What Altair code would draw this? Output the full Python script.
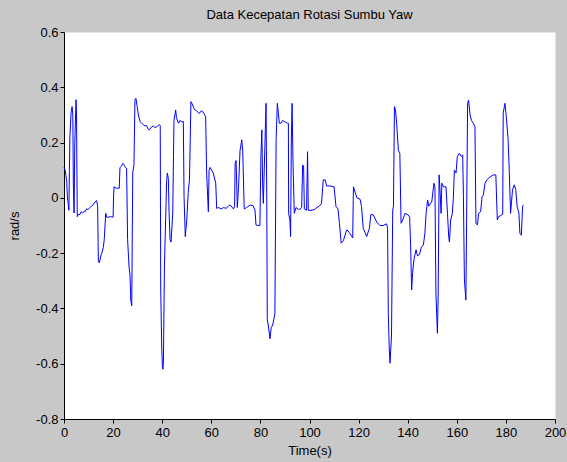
import altair as alt
import pandas as pd

# ---- data ----
time_s = [
    0.0, 0.5, 0.8, 1.1, 1.4, 1.7, 2.0, 2.2, 2.4, 2.9, 3.3, 3.6, 3.8, 4.1, 4.4, 4.9, 5.1, 5.4,
    5.8, 6.5, 7.0, 7.6, 8.2, 8.6, 9.2, 9.8, 10.6, 11.2, 11.9, 12.6, 13.3, 13.7, 14.0, 14.4,
    15.0, 15.4, 16.0, 16.4, 17.0, 17.4, 18.0, 19.0, 20.0, 20.2, 20.4, 21.3, 22.5, 22.8, 23.4,
    24.0, 24.4, 25.0, 25.5, 25.9, 26.5, 26.9, 27.2, 27.6, 28.0, 28.5, 28.9, 29.3, 29.8, 30.3,
    31.0, 31.6, 32.3, 33.0, 33.6, 34.2, 34.8, 35.5, 36.4, 37.0, 37.7, 38.3, 38.8, 39.2, 39.4,
    39.8, 40.1, 40.3, 40.5, 40.9, 41.4, 41.8, 42.1, 42.5, 42.8, 43.2, 43.6, 44.0, 44.3, 44.6,
    44.8, 45.5, 45.8, 46.6, 47.2, 48.0, 48.6, 48.9, 49.4, 50.0, 50.6, 51.1, 51.4, 51.7, 52.2,
    53.1, 54.0, 55.1, 55.9, 56.7, 57.7, 58.1, 58.8, 59.1, 59.5, 60.8, 61.8, 62.2, 63.0, 64.0,
    65.0, 66.0, 67.0, 67.6, 69.0, 69.5, 69.7, 70.1, 70.6, 71.1, 71.7, 72.4, 72.8, 73.4, 74.4,
    75.8, 77.0, 77.8, 78.2, 79.0, 79.8, 80.2, 80.6, 80.9, 81.2, 81.8, 82.3, 82.6, 82.8, 83.2,
    83.9, 84.4, 85.0, 85.9, 86.4, 86.9, 87.3, 87.7, 88.3, 89.0, 90.0, 91.0, 91.4, 91.5, 92.0,
    92.3, 92.6, 92.9, 93.3, 93.8, 94.5, 95.5, 96.2, 96.8, 97.2, 97.6, 97.9, 98.8, 99.2, 99.5,
    100.6, 101.9, 103.0, 104.0, 104.9, 105.6, 106.4, 107.0, 108.4, 110.0, 110.8, 111.6, 112.2,
    112.9, 113.8, 115.1, 115.8, 116.5, 117.6, 117.9, 118.6, 119.3, 120.6, 121.2, 121.9, 122.6,
    123.3, 124.4, 125.0, 126.0, 127.4, 128.7, 130.0, 131.4, 131.8, 132.1, 132.5, 132.8, 133.4,
    133.9, 134.2, 134.6, 135.0, 135.5, 136.2, 136.8, 137.3, 138.0, 138.9, 140.2, 140.8, 141.2,
    141.6, 142.0, 142.6, 143.4, 144.0, 144.8, 145.5, 146.4, 147.0, 147.5, 148.1, 148.6, 149.3,
    149.8, 150.2, 150.7, 151.1, 151.5, 152.1, 152.4, 152.8, 153.2, 153.6, 153.9, 154.5, 155.6,
    156.2, 156.7, 157.0, 157.5, 158.2, 158.6, 159.0, 159.7, 160.2, 161.0, 161.8, 162.4, 162.7,
    163.1, 163.7, 164.0, 164.4, 164.8, 165.4, 166.0, 166.7, 167.4, 167.8, 168.4, 168.9, 169.7,
    170.3, 170.8, 171.5, 172.2, 172.8, 173.5, 174.8, 175.9, 176.5, 177.0, 177.7, 178.7, 178.9,
    179.6, 180.2, 180.9, 181.4, 181.9, 182.7, 183.4, 184.0, 184.6, 185.3, 185.7, 186.3, 186.8,
    187.2,
]
yaw_rad_s = [
    0.11, 0.10, 0.08, 0.06, 0.00, -0.02, -0.045, 0.10, 0.22, 0.31, 0.33, 0.30, 0.05, -0.055,
    0.20, 0.355, 0.30, -0.068, -0.06, -0.06, -0.05, -0.055, -0.048, -0.05, -0.04, -0.042,
    -0.035, -0.03, -0.025, -0.015, -0.01, -0.03, -0.23, -0.235, -0.21, -0.20, -0.18, -0.15,
    -0.056, -0.07, -0.07, -0.068, -0.07, 0.01, 0.04, 0.035, 0.035, 0.11, 0.115, 0.125, 0.12,
    0.11, 0.107, -0.15, -0.25, -0.28, -0.37, -0.39, 0.09, 0.12, 0.354, 0.36, 0.33, 0.30,
    0.276, 0.27, 0.265, 0.26, 0.262, 0.25, 0.246, 0.255, 0.26, 0.255, 0.256, 0.262, 0.264,
    0.262, -0.33, -0.54, -0.61, -0.62, -0.59, -0.25, -0.08, 0.06, 0.09, 0.07, -0.05, -0.15,
    -0.16, -0.10, -0.055, 0.15, 0.28, 0.318, 0.29, 0.27, 0.28, 0.275, 0.276, 0.004, -0.14,
    -0.08, 0.02, 0.065, 0.20, 0.348, 0.34, 0.32, 0.315, 0.305, 0.315, 0.31, 0.294, 0.089,
    -0.05, 0.10, 0.11, 0.09, 0.053, -0.038, -0.035, -0.04, -0.035, -0.038, -0.03, -0.025,
    -0.04, -0.03, 0.125, 0.135, -0.035, 0.04, 0.17, 0.21, 0.17, -0.04, -0.035, -0.026,
    -0.028, -0.044, -0.098, -0.10, -0.10, 0.15, 0.246, 0.05, -0.02, 0.18, 0.342, -0.02,
    -0.44, -0.46, -0.51, -0.47, -0.46, -0.42, 0.21, 0.342, 0.31, 0.27, 0.27, 0.28, 0.275,
    0.27, 0.27, -0.056, -0.08, -0.14, 0.21, 0.342, 0.12, -0.056, -0.035, -0.042, -0.04,
    -0.035, 0.119, 0.115, -0.04, -0.045, 0.167, -0.045, -0.045, -0.043, -0.035, -0.03,
    -0.02, 0.065, 0.065, 0.043, 0.043, 0.04, -0.032, -0.04, -0.092, -0.164, -0.155, -0.116,
    -0.12, -0.13, -0.145, 0.04, 0.02, 0.0, -0.005, -0.032, -0.11, -0.125, -0.14, -0.11,
    -0.06, -0.062, -0.088, -0.10, -0.10, -0.094, -0.11, -0.418, -0.55, -0.598, -0.50,
    -0.044, -0.03, 0.33, 0.32, 0.27, 0.173, 0.16, -0.092, -0.08, -0.056, -0.062, -0.07,
    -0.177, -0.333, -0.27, -0.22, -0.188, -0.21, -0.205, -0.18, -0.17, -0.128, -0.056,
    -0.008, -0.03, -0.02, -0.015, 0.017, 0.053, 0.04, -0.345, -0.49, -0.36, 0.083, 0.02,
    -0.056, 0.053, 0.04, 0.04, -0.056, -0.14, -0.16, -0.08, -0.056, 0.0, 0.10, 0.09, 0.149,
    0.161, 0.15, 0.155, 0.004, -0.297, -0.37, -0.08, 0.342, 0.354, 0.30, 0.28, 0.27, 0.258,
    -0.092, -0.098, -0.056, -0.05, 0.004, 0.01, 0.053, 0.065, 0.07, 0.075, 0.083, 0.083,
    -0.08, -0.068, -0.065, -0.06, 0.306, 0.342, 0.29, 0.21, 0.089, -0.056, 0.029, 0.047,
    0.03, -0.032, -0.056, -0.128, -0.135, -0.03, -0.025,
]
x_ticks = [0, 20, 40, 60, 80, 100, 120, 140, 160, 180, 200]
y_ticks = [-0.8, -0.6, -0.4, -0.2, 0, 0.2, 0.4, 0.6]

title_text = "Data Kecepatan Rotasi Sumbu Yaw"
x_title = "Time(s)"
y_title = "rad/s"

FONT = "Liberation Sans"
W, H = 491, 387

df = pd.DataFrame({"t": time_s, "v": yaw_rad_s})

xs = alt.Scale(domain=[0, 200], nice=False, zero=False)
ys = alt.Scale(domain=[-0.8, 0.6], nice=False, zero=False)

chart = alt.Chart(df).mark_line(color="#0000ff", strokeWidth=1).encode(
    x=alt.X("t:Q", scale=xs,
            axis=alt.Axis(values=x_ticks, title=x_title, labelPadding=3, titlePadding=5,
                          labelFlush=False, labelExpr="'' + datum.value")),
    y=alt.Y("v:Q", scale=ys,
            axis=alt.Axis(values=y_ticks, title=y_title, labelPadding=2, titlePadding=14,
                          labelExpr="'' + datum.value")),
).properties(
    width=W, height=H,
    title=alt.TitleParams(title_text, font=FONT, fontSize=13, fontWeight="normal",
                          color="black", anchor="middle"),
    background="#c8c8c8",
    padding={"left": 64, "top": 32, "right": 12, "bottom": 43},
    autosize=alt.AutoSizeParams(type="none"),
).configure_view(fill="white", stroke="transparent").configure_axis(
    labelFont=FONT, labelFontSize=13, labelColor="black",
    titleFont=FONT, titleFontSize=13, titleColor="black", titleFontWeight="normal",
    domainColor="black", tickColor="black", tickSize=4, grid=False,
)

chart.save("out.html", embed_options={"renderer": "svg", "actions": False})
